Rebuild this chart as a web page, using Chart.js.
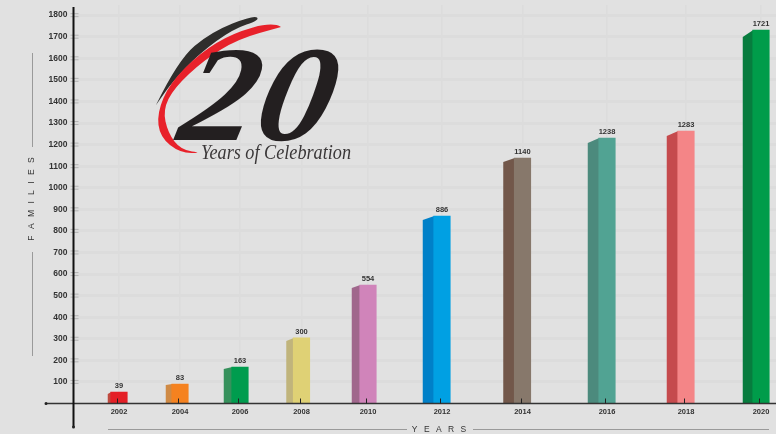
<!DOCTYPE html>
<html>
<head>
<meta charset="utf-8">
<script src="https://cdn.jsdelivr.net/npm/chart.js@4"></script>
<style>
  html, body { margin: 0; padding: 0; background: #e1e1e1; }
  #wrap { width: 776px; height: 434px; }
</style>
</head>
<body>
<div id="wrap"><canvas id="familiesChart" width="776" height="434"></canvas></div>
<script>
var years = ['2002', '2004', '2006', '2008', '2010', '2012', '2014', '2016', '2018', '2020'];
// printed numbers above the bars
var families = [39, 83, 163, 300, 554, 886, 1140, 1238, 1283, 1721];
// bar heights as read against the axis, the picture does not draw them to the printed numbers
var barHeights = [53, 90, 169, 304, 549, 869, 1138, 1230, 1263, 1731];
var yTicks = [100, 200, 300, 400, 500, 600, 700, 800, 900, 1000, 1100, 1200, 1300, 1400, 1500, 1600, 1700, 1800];

var frontColors = ['#e41f26', '#f58220', '#009c4e', '#dfd175', '#d084ba', '#00a0e3', '#87786b', '#51a393', '#f48587', '#009c4a'];
var sideColors = ['#bf4a3f', '#cf8a45', '#36915c', '#c0b47c', '#a0678c', '#0080c8', '#72574a', '#4c8a7d', '#c54a4d', '#077c3e'];
var sideWidths = [3, 6, 8, 7, 8, 11, 11, 11, 11, 10];
var sideDrops = [2, 1, 2, 3, 3, 4, 4, 5, 5, 7];

// the years are not evenly spaced along the axis in the original
var yearGaps = [45.5, 61, 60, 61.5, 66.5, 74, 80.5, 84.5, 79, 75, 15];

class SpacedCategoryScale extends Chart.CategoryScale {
    getPixelForValue(value) {
        if (typeof value !== 'number') value = this.parse(value);
        var total = yearGaps.reduce(function (a, b) { return a + b; }, 0);
        var sum = 0;
        for (var i = 0; i <= value; i++) sum += yearGaps[i];
        return this.left + this.width * sum / total;
    }
}
SpacedCategoryScale.id = 'spacedCategory';
SpacedCategoryScale.defaults = {};
Chart.register(SpacedCategoryScale);

function smoothShape(ctx, pts) {
    // closed outline through the midpoints
    ctx.beginPath();
    ctx.moveTo(pts[0][0], pts[0][1]);
    for (var i = 1; i < pts.length - 1; i++) {
        var mx = (pts[i][0] + pts[i + 1][0]) / 2;
        var my = (pts[i][1] + pts[i + 1][1]) / 2;
        ctx.quadraticCurveTo(pts[i][0], pts[i][1], mx, my);
    }
    ctx.lineTo(pts[pts.length - 1][0], pts[pts.length - 1][1]);
    ctx.closePath();
    ctx.fill();
}

var blackSwoosh = [[156, 105], [178, 60], [211, 32], [254, 15], [260, 20], [233, 29], [200, 53], [173, 81], [156, 105]];
var redSwoosh = [[281, 27], [273, 22], [233, 33], [200, 53], [170, 83], [157, 113], [160, 137], [180, 153], [203, 153], [181, 150], [168, 133], [163, 110], [174, 88], [204, 60], [238, 39], [281, 27]];

var logoPlugin = {
    id: 'logo',
    beforeDatasetsDraw: function (chart) {
        var ctx = chart.ctx;
        ctx.save();
        ctx.fillStyle = '#2f2e2c';
        smoothShape(ctx, blackSwoosh);
        ctx.fillStyle = '#e8212a';
        smoothShape(ctx, redSwoosh);

        ctx.fillStyle = '#231f20';
        ctx.textAlign = 'left';
        ctx.textBaseline = 'alphabetic';
        ctx.save();
        ctx.translate(175, 140);
        ctx.transform(1.12, 0, -0.2, 1, 0, 0);
        ctx.font = 'italic bold 136px "Liberation Serif"';
        ctx.fillText('20', 0, 0);
        ctx.restore();

        ctx.fillStyle = '#3a3738';
        ctx.font = 'italic 20px "Liberation Serif"';
        ctx.fillText('Years of Celebration', 201, 159, 150);
        ctx.restore();
    }
};

var barDecorPlugin = {
    id: 'barDecor',
    beforeDatasetDraw: function (chart) {
        // side faces, behind the front of the bars
        var ctx = chart.ctx;
        var bars = chart.getDatasetMeta(0).data;
        ctx.save();
        bars.forEach(function (bar, i) {
            var left = bar.x - bar.width / 2;
            ctx.fillStyle = sideColors[i];
            ctx.beginPath();
            ctx.moveTo(left + 0.5, bar.base);
            ctx.lineTo(left + 0.5, bar.y);
            ctx.lineTo(left - sideWidths[i], bar.y + sideDrops[i]);
            ctx.lineTo(left - sideWidths[i], bar.base);
            ctx.closePath();
            ctx.fill();
        });
        ctx.restore();
    },
    afterDatasetsDraw: function (chart) {
        var ctx = chart.ctx;
        var area = chart.chartArea;
        var xScale = chart.scales.x;
        var yScale = chart.scales.y;
        var bars = chart.getDatasetMeta(0).data;
        ctx.save();

        // number above each bar
        ctx.fillStyle = '#333333';
        ctx.font = 'bold 7.5px "Liberation Sans"';
        ctx.textAlign = 'center';
        ctx.textBaseline = 'middle';
        bars.forEach(function (bar, i) {
            ctx.fillText(String(families[i]), bar.x, bar.y - 6);
        });

        // short double marks on the y axis
        ctx.strokeStyle = '#a9a9a9';
        ctx.lineWidth = 0.8;
        yTicks.forEach(function (v) {
            var y = yScale.getPixelForValue(v);
            ctx.beginPath();
            ctx.moveTo(area.left - 3, y - 1.5);
            ctx.lineTo(area.left + 5, y - 1.5);
            ctx.moveTo(area.left - 3, y + 1.5);
            ctx.lineTo(area.left + 5, y + 1.5);
            ctx.stroke();
        });

        // axis lines, they run past the plot area
        ctx.strokeStyle = '#333333';
        ctx.lineWidth = 1.5;
        ctx.beginPath();
        ctx.moveTo(46, area.bottom);
        ctx.lineTo(776, area.bottom);
        ctx.stroke();
        ctx.strokeStyle = '#111111';
        ctx.lineWidth = 2;
        ctx.beginPath();
        ctx.moveTo(area.left, 7);
        ctx.lineTo(area.left, 427);
        ctx.stroke();
        ctx.fillStyle = '#222222';
        ctx.beginPath();
        ctx.arc(46, area.bottom, 1.5, 0, Math.PI * 2);
        ctx.arc(area.left, 427, 1.5, 0, Math.PI * 2);
        ctx.fill();

        // x ticks sit inside the bars
        ctx.strokeStyle = '#222222';
        ctx.lineWidth = 1;
        years.forEach(function (y, i) {
            var x = Math.round(xScale.getPixelForTick(i)) - 1.5;
            ctx.beginPath();
            ctx.moveTo(x, area.bottom - 5);
            ctx.lineTo(x, area.bottom);
            ctx.stroke();
        });

        // axis captions with their rules
        ctx.strokeStyle = '#9a9a9a';
        ctx.lineWidth = 1;
        ctx.beginPath();
        ctx.moveTo(108, 429.5);
        ctx.lineTo(407, 429.5);
        ctx.moveTo(473, 429.5);
        ctx.lineTo(769, 429.5);
        ctx.moveTo(32.5, 53);
        ctx.lineTo(32.5, 147);
        ctx.moveTo(32.5, 252);
        ctx.lineTo(32.5, 356);
        ctx.stroke();

        ctx.fillStyle = '#333333';
        ctx.font = '8.5px "Liberation Sans"';
        ctx.letterSpacing = '2px';
        ctx.fillText('Y E A R S', 440, 430);
        ctx.translate(32, 198);
        ctx.rotate(-Math.PI / 2);
        ctx.fillText('F A M I L I E S', 0, 0);
        ctx.restore();
    }
};

var ctx = document.getElementById('familiesChart').getContext('2d');
var chart = new Chart(ctx, {
    type: 'bar',
    data: {
        labels: years,
        datasets: [{
            data: barHeights,
            backgroundColor: frontColors,
            borderWidth: 0,
            barThickness: 16.5
        }]
    },
    options: {
        responsive: false,
        animation: false,
        layout: { padding: { top: 5 } },
        plugins: { legend: { display: false }, tooltip: { enabled: false } },
        scales: {
            x: {
                type: 'spacedCategory',
                offset: false,
                afterFit: function (scale) {
                    scale.height = 30.5;
                    scale.paddingLeft = 0;
                    scale.paddingRight = 0;
                },
                grid: { offset: false, color: '#dcdcdc', lineWidth: 1.5, drawTicks: false },
                border: { display: false },
                ticks: {
                    autoSkip: false,
                    maxRotation: 0,
                    padding: 4,
                    color: '#333333',
                    font: { family: '"Liberation Sans"', size: 7.5, weight: 'bold' }
                }
            },
            y: {
                min: 0,
                max: 1847,
                afterFit: function (scale) {
                    scale.width = 73.5;
                    scale.paddingTop = 0;
                    scale.paddingBottom = 0;
                },
                afterBuildTicks: function (scale) {
                    scale.ticks = yTicks.map(function (v) { return { value: v }; });
                },
                grid: { color: '#dcdcdc', lineWidth: 3, drawTicks: false },
                border: { display: false },
                ticks: {
                    padding: 6,
                    color: '#333333',
                    font: { family: '"Liberation Sans"', size: 8.5, weight: 'bold' },
                    callback: function (value) { return String(value); }
                }
            }
        }
    },
    plugins: [logoPlugin, barDecorPlugin]
});
</script>
</body>
</html>
